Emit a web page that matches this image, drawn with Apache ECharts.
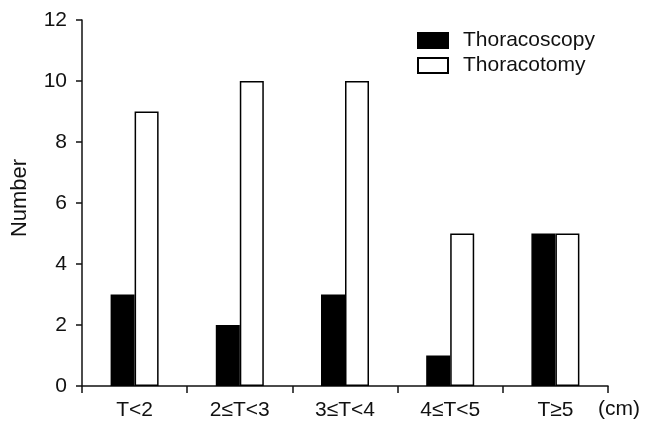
<!DOCTYPE html>
<html><head><meta charset="utf-8">
<script src="https://cdn.jsdelivr.net/npm/echarts@6/dist/echarts.min.js"></script>
<style>html,body{margin:0;padding:0;background:#fff}#c{width:654px;height:432px}</style>
</head><body><div id="c"></div>
<script>
var categories = ['T<2', '2≤T<3', '3≤T<4', '4≤T<5', 'T≥5'];
var thoracoscopy = [3, 2, 3, 1, 5];
var thoracotomy = [9, 10, 10, 5, 5];
var yTicks = [0, 2, 4, 6, 8, 10, 12];

var font = 'Liberation Sans, Arial, sans-serif';
var chart = echarts.init(document.getElementById('c'), null, {renderer: 'canvas'});
chart.setOption({
  animation: false,
  backgroundColor: '#fff',
  grid: {left: 82, right: 46, top: 20, bottom: 46},
  legend: {
    left: 412, top: 25, orient: 'vertical', itemWidth: 30, itemHeight: 15, itemGap: 4,
    icon: 'rect',
    textStyle: {fontFamily: font, fontSize: 21, color: '#111', padding: [0, 0, 0, 10]},
    data: ['Thoracoscopy', 'Thoracotomy']
  },
  graphic: [{
    type: 'text', left: 598, top: 399,
    style: {text: '(cm)', font: '21px ' + font, fill: '#111'}
  }],
  xAxis: {
    type: 'category', data: categories,
    axisLine: {lineStyle: {color: '#111', width: 1.5}},
    axisTick: {show: true, length: 7, lineStyle: {color: '#111', width: 1.5}},
    axisLabel: {fontFamily: font, fontSize: 21, color: '#111', margin: 14}
  },
  yAxis: {
    type: 'value', min: yTicks[0], max: yTicks[yTicks.length - 1], interval: 2,
    name: 'Number', nameLocation: 'middle', nameGap: 51,
    nameTextStyle: {fontFamily: font, fontSize: 22, color: '#111', padding: [0, 0, 0, 10]},
    axisLine: {show: true, lineStyle: {color: '#111', width: 1.5}},
    axisTick: {show: true, length: 6, lineStyle: {color: '#111', width: 1.5}},
    axisLabel: {fontFamily: font, fontSize: 21, color: '#111', margin: 15},
    splitLine: {show: false}
  },
  series: [
    {name: 'Thoracoscopy', type: 'bar', data: thoracoscopy, barWidth: 24, barGap: '0%',
     itemStyle: {color: '#000', borderColor: '#000', borderWidth: 1.5}},
    {name: 'Thoracotomy', type: 'bar', data: thoracotomy, barWidth: 24, barGap: '0%',
     itemStyle: {color: '#fff', borderColor: '#000', borderWidth: 1.5}}
  ]
});
</script></body></html>
